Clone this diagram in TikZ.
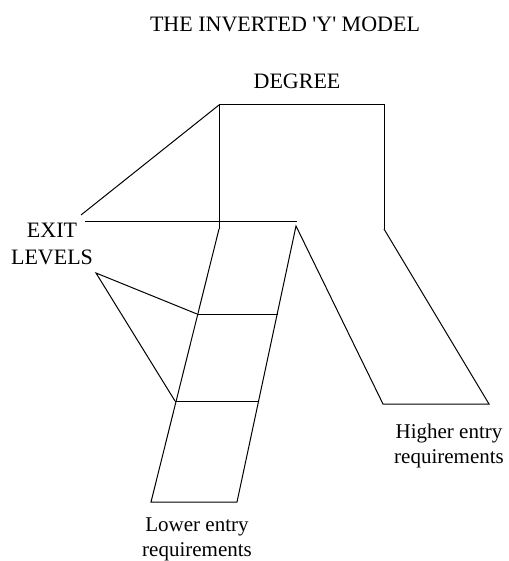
\documentclass[tikz,border=0pt]{standalone}
\usepackage{fontspec}
\setmainfont{Liberation Serif}
\usetikzlibrary{positioning}

\begin{document}
\begin{tikzpicture}[
  x=1pt, y=-1pt,
  caps/.style={font=\fontsize{22}{27}\selectfont, align=center, inner sep=0pt},
  note/.style={font=\fontsize{21}{24.5}\selectfont, align=center, inner sep=0pt},
  leg/.style={line width=1pt}
]
\useasboundingbox (0,0) rectangle (508,561);

\node[caps, anchor=base] (title)  at (285,32)  {THE INVERTED \textquotesingle Y\textquotesingle\ MODEL};
\node[caps, anchor=base] (degree) at (297,89)  {DEGREE};
\node[caps, anchor=north] (exit)  at (52,223)  {EXIT\\LEVELS};
\node[note, anchor=north] (higher) at (449,424) {Higher entry\\requirements};
\node[note, anchor=north] (lower)  at (197,518) {Lower entry\\requirements};

\coordinate (degTL) at (219,105);
\coordinate (degTR) at (384,105);
\coordinate (degBL) at (219,229);
\coordinate (degBR) at (384,229);
\coordinate (exitL) at (85,221);
\coordinate (exitR) at (297,221);
\coordinate (fork)  at (296,226);
\coordinate (diag)  at (81,215);
\coordinate (point) at (96,273);
\coordinate (rungAL) at (197,314);
\coordinate (rungAR) at (278,314);
\coordinate (rungBL) at (175,401);
\coordinate (rungBR) at (258,401);
\coordinate (lowL)  at (151,502);
\coordinate (lowR)  at (237,502);
\coordinate (highL) at (383,404);
\coordinate (highR) at (489,404);

\draw[leg] (degBL) -- (degTL) -- (degTR) -- (degBR);
\draw[leg] (exitL) -- (exitR);
\draw[leg] (diag) -- (degTL);
\draw[leg] (degBL) -- (lowL) -- (lowR) -- (fork) -- (highL) -- (highR) -- (degBR);
\draw[leg] (rungAL) -- (rungAR);
\draw[leg] (rungBL) -- (rungBR);
\draw[leg] (rungAL) -- (point) -- (rungBL);
\end{tikzpicture}
\end{document}
